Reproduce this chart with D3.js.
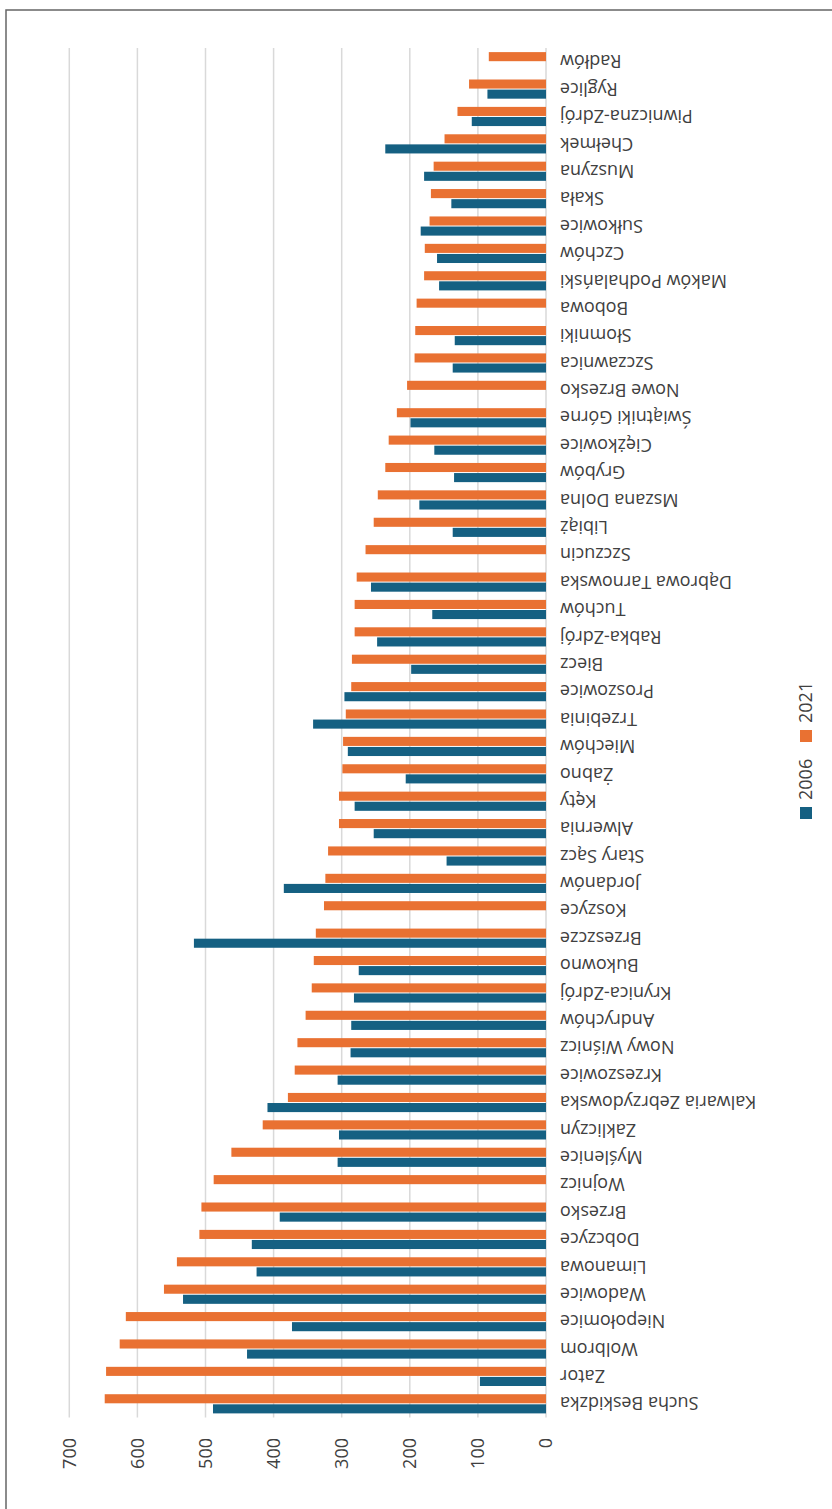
<!DOCTYPE html>
<html>
<head>
<meta charset="utf-8">
<script src="https://cdn.jsdelivr.net/npm/d3@7"></script>
<style>
  body { margin: 0; background: #fff; }
  text { font-family: "Open Sans", sans-serif; }
</style>
</head>
<body>
<div id="vis"></div>
<script>
// Data (towns in chart order, values for 2006 and 2021)
const TOWNS = ["Sucha Beskidzka", "Zator", "Wolbrom", "Niepołomice", "Wadowice", "Limanowa",
    "Dobczyce", "Brzesko", "Wojnicz", "Myślenice", "Zakliczyn", "Kalwaria Zebrzydowska",
    "Krzeszowice", "Nowy Wiśnicz", "Andrychów", "Krynica-Zdrój", "Bukowno", "Brzeszcze",
    "Koszyce", "Jordanów", "Stary Sącz", "Alwernia", "Kęty", "Żabno", "Miechów", "Trzebinia",
    "Proszowice", "Biecz", "Rabka-Zdrój", "Tuchów", "Dąbrowa Tarnowska", "Szczucin", "Libiąż",
    "Mszana Dolna", "Grybów", "Ciężkowice", "Świątniki Górne", "Nowe Brzesko", "Szczawnica",
    "Słomniki", "Bobowa", "Maków Podhalański", "Czchów", "Sułkowice", "Skała", "Muszyna",
    "Chełmek", "Piwniczna-Zdrój", "Ryglice", "Radłów"];

const VALUES_2006 = [489, 97, 439, 373, 533, 425, 432, 391, null, 306, 304, 409, 306, 287, 286,
    282, 275, 517, null, 385, 146, 253, 281, 206, 291, 342, 296, 198, 248, 167, 257, null, 137,
    186, 135, 164, 199, null, 137, 134, null, 157, 160, 184, 139, 179, 236, 109, 86, null];

const VALUES_2021 = [648, 646, 626, 617, 561, 542, 509, 506, 488, 462, 416, 379, 369, 365, 353,
    344, 341, 338, 326, 324, 320, 304, 304, 299, 298, 294, 286, 285, 281, 281, 278, 265, 253,
    247, 236, 231, 219, 204, 193, 192, 190, 179, 178, 171, 169, 165, 149, 130, 113, 84];

const SERIES = ["2006", "2021"];
const Y_TICKS = [0, 100, 200, 300, 400, 500, 600, 700];

const COLORS = { "2006": "#156082", "2021": "#E97132" };

// Page size; the chart itself is drawn upright and then turned a quarter
const PAGE_W = 832;
const PAGE_H = 1509;
const CHART_W = PAGE_H;   // upright width
const CHART_H = PAGE_W;   // upright height

const PLOT = { left: 91.5, right: 1461, top: 69.3, bottom: 546 };

const rows = TOWNS.map((t, i) => ({ town: t, "2006": VALUES_2006[i], "2021": VALUES_2021[i] }));

const SVG = d3.select("#vis")
    .append("svg")
    .attr("width", PAGE_W)
    .attr("height", PAGE_H);

SVG.append("rect")
    .attr("width", PAGE_W)
    .attr("height", PAGE_H)
    .attr("fill", "#fff");

const CHART = SVG.append("g")
    .attr("transform", "translate(0," + PAGE_H + ") rotate(-90)");

// chart border (only top and right show inside the page)
CHART.append("rect")
    .attr("x", -20)
    .attr("y", 6)
    .attr("width", 1499 + 20)
    .attr("height", CHART_H + 20)
    .attr("fill", "none")
    .attr("stroke", "#666")
    .attr("stroke-width", 1.5);

// scales
const X_SCALE = d3.scaleBand()
    .domain(TOWNS)
    .range([PLOT.left, PLOT.right])
    .paddingInner(0.3)
    .paddingOuter(0.15);

const X_SUB = d3.scaleBand()
    .domain(SERIES)
    .range([0, X_SCALE.bandwidth()])
    .paddingInner(0.1);

const Y_SCALE = d3.scaleLinear()
    .domain([0, 700])
    .range([PLOT.bottom, PLOT.top]);

// gridlines
CHART.append("g")
    .selectAll("line")
    .data(Y_TICKS)
    .enter()
    .append("line")
    .attr("x1", PLOT.left)
    .attr("x2", PLOT.right)
    .attr("y1", d => Y_SCALE(d))
    .attr("y2", d => Y_SCALE(d))
    .attr("stroke", "#d9d9d9")
    .attr("stroke-width", 1.5);

// bars
const groups = CHART.append("g")
    .selectAll("g")
    .data(rows)
    .enter()
    .append("g")
    .attr("transform", d => "translate(" + X_SCALE(d.town) + ",0)");

groups.selectAll("rect")
    .data(d => SERIES.filter(s => d[s] != null).map(s => ({ key: s, value: d[s] })))
    .enter()
    .append("rect")
    .attr("x", d => X_SUB(d.key))
    .attr("width", X_SUB.bandwidth())
    .attr("y", d => Y_SCALE(d.value))
    .attr("height", d => Y_SCALE(0) - Y_SCALE(d.value))
    .attr("fill", d => COLORS[d.key]);

// value axis
const yAxis = CHART.append("g")
    .attr("transform", "translate(71,0)")
    .call(d3.axisLeft(Y_SCALE).tickValues(Y_TICKS).tickSize(0).tickPadding(0));
yAxis.select(".domain").remove();
yAxis.selectAll("text")
    .attr("font-family", "Open Sans, sans-serif")
    .attr("font-size", "18px")
    .attr("fill", "#404040");

// category axis with rotated labels
const xAxis = CHART.append("g")
    .attr("transform", "translate(0," + PLOT.bottom + ")")
    .call(d3.axisBottom(X_SCALE).tickSize(0));
xAxis.select(".domain").remove();
xAxis.selectAll("text")
    .attr("font-family", "Open Sans, sans-serif")
    .attr("font-size", "18px")
    .attr("fill", "#404040")
    .attr("text-anchor", "end")
    .attr("transform", "rotate(-90)")
    .attr("x", -14)
    .attr("y", 0)
    .attr("dy", "0.35em");

// legend
const LEGEND = [{ key: "2006", x: 690 }, { key: "2021", x: 767 }];
const leg = CHART.append("g")
    .selectAll("g")
    .data(LEGEND)
    .enter()
    .append("g")
    .attr("transform", d => "translate(" + d.x + ",806)");
leg.append("rect")
    .attr("x", 0)
    .attr("y", -6)
    .attr("width", 12)
    .attr("height", 12)
    .attr("fill", d => COLORS[d.key]);
leg.append("text")
    .attr("x", 19)
    .attr("dy", "0.35em")
    .attr("font-size", "18px")
    .attr("fill", "#404040")
    .text(d => d.key);
</script>
</body>
</html>
